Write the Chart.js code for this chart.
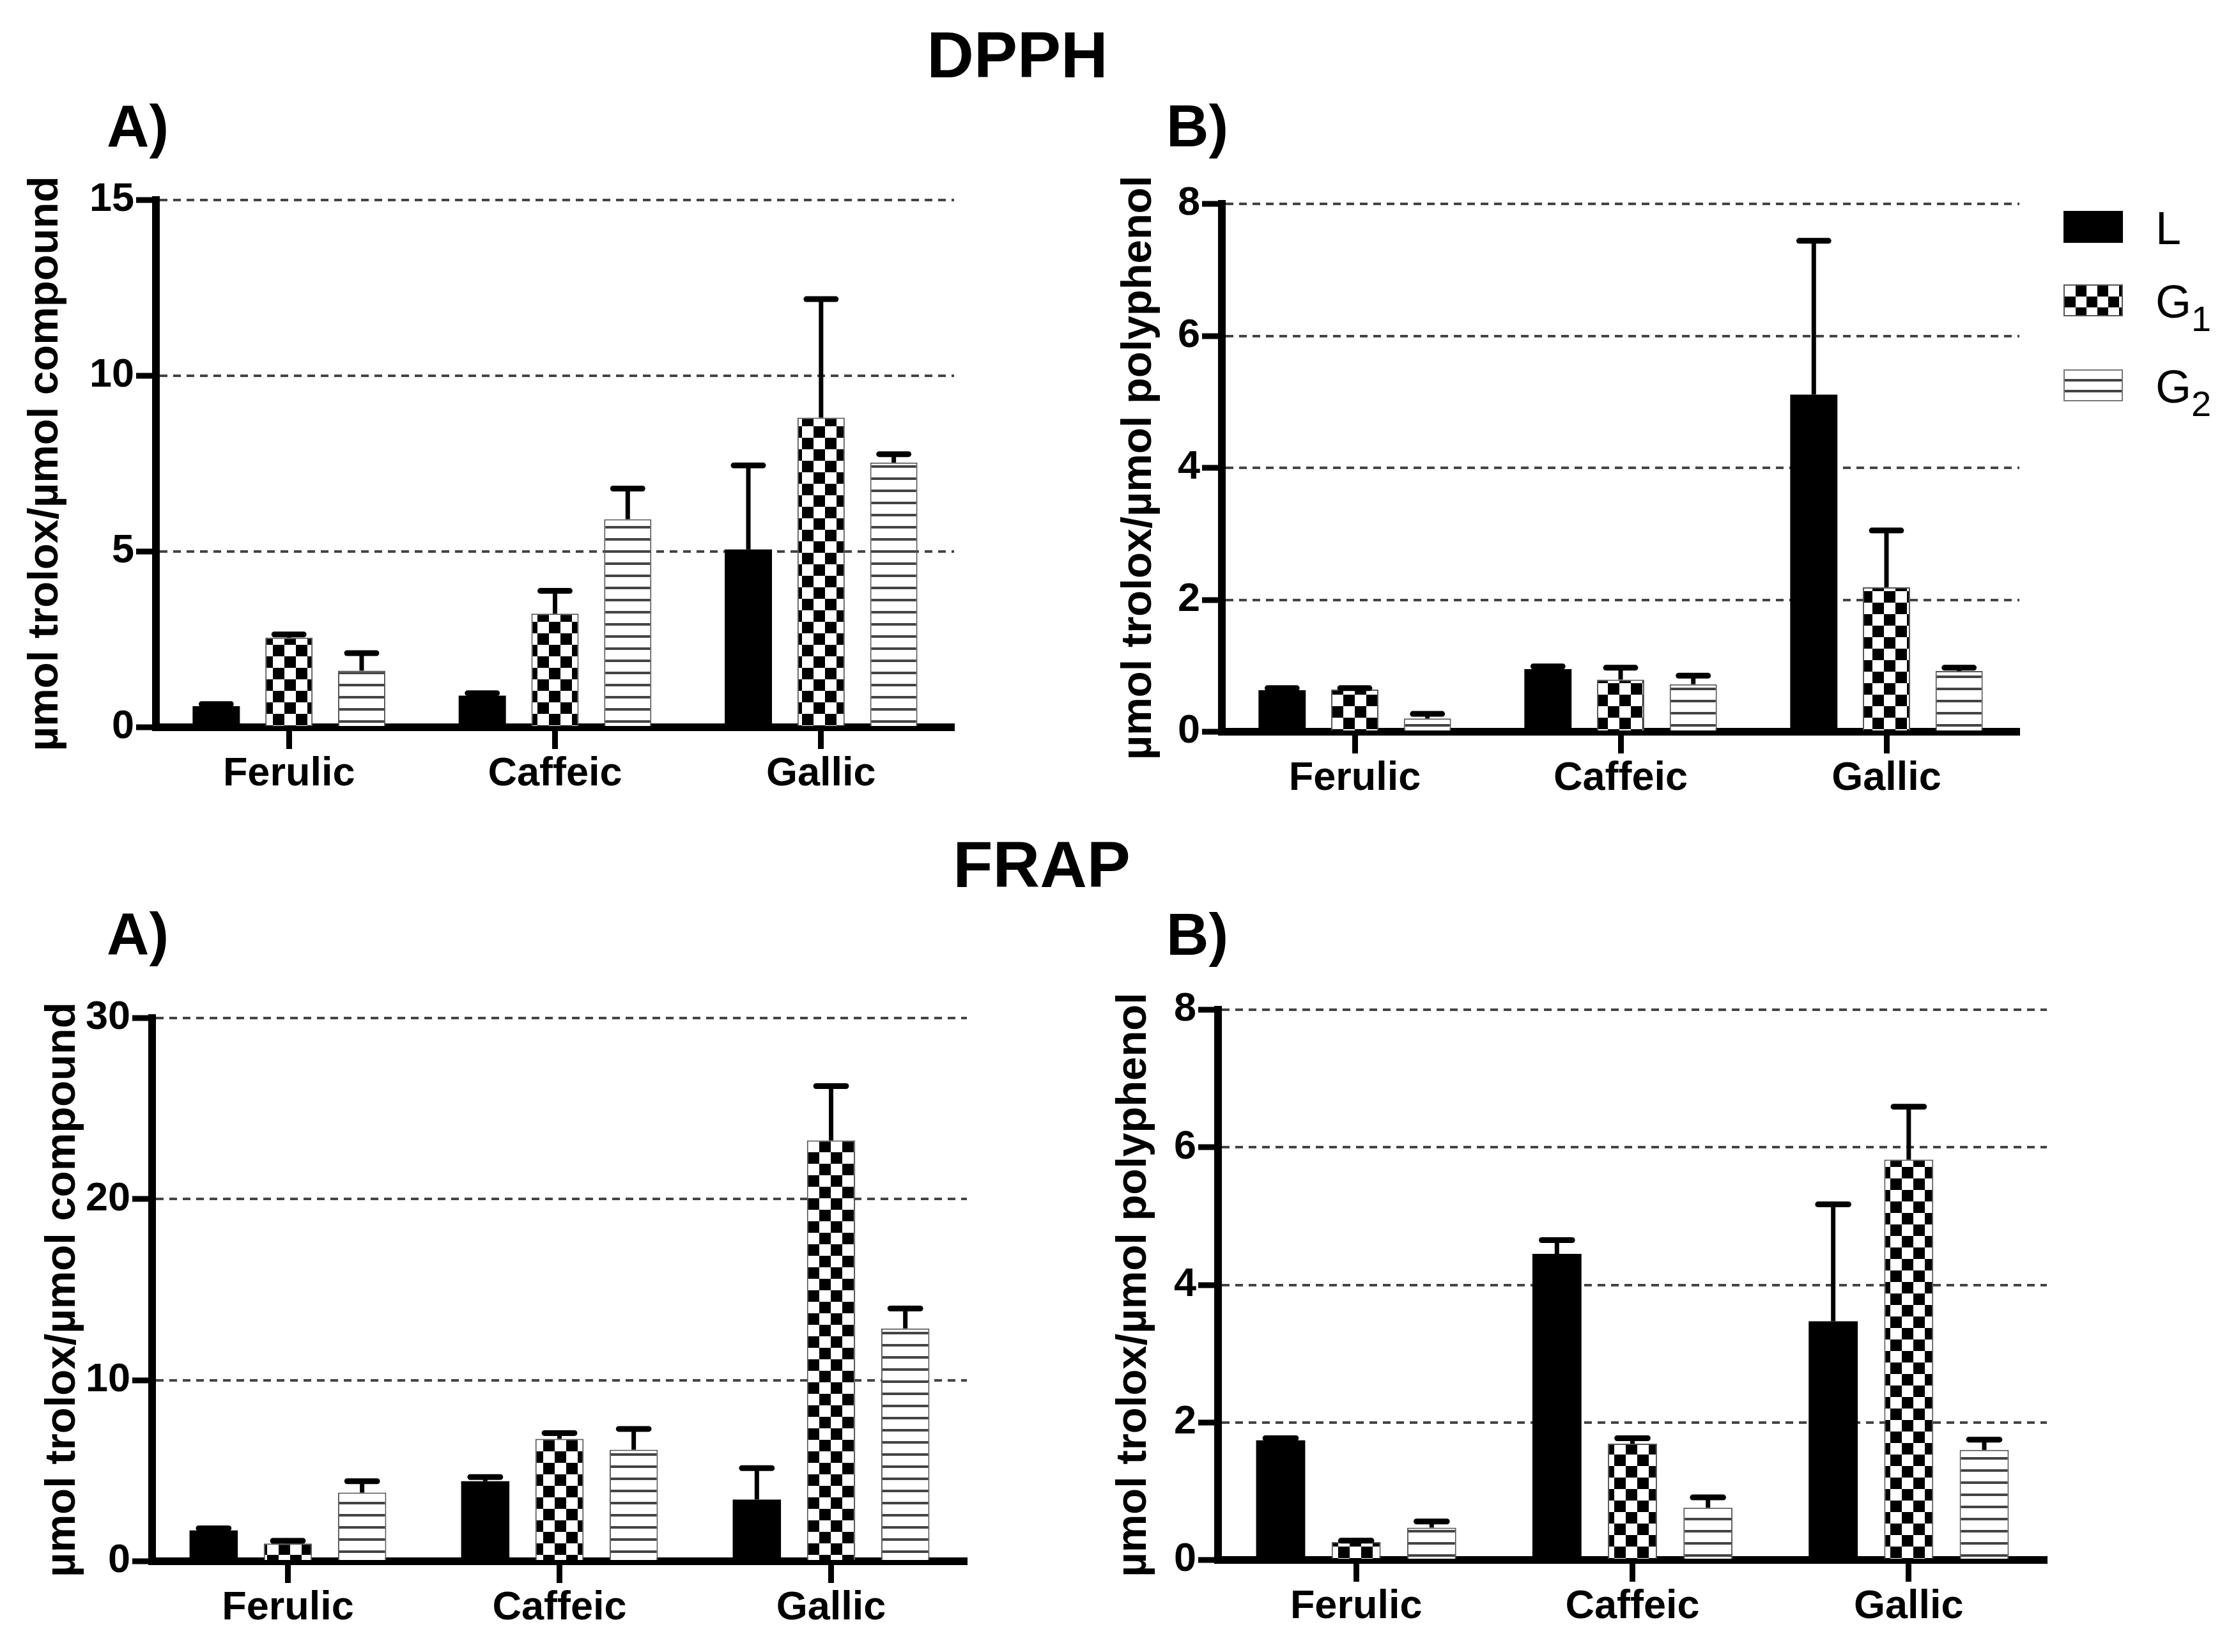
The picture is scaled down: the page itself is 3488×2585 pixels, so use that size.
<!DOCTYPE html>
<html>
<head>
<meta charset="utf-8">
<script src="https://cdn.jsdelivr.net/npm/chart.js@4.4.1/dist/chart.umd.min.js"></script>
<style>
  html, body { margin: 0; padding: 0; background: #fff; }
  #page { position: relative; width: 3488px; height: 2585px; overflow: hidden; background: #fff;
          font-family: 'Liberation Sans', Arial, sans-serif; color: #000; }
  canvas { position: absolute; }
  .txt { position: absolute; white-space: nowrap; line-height: 1; }
  .head { font-size: 102px; font-weight: bold; transform: translateX(-50%); }
  .panel { font-size: 92px; font-weight: bold; }
  .leg { font-size: 72px; }
  .leg .sub { font-size: 56px; position: relative; top: 21px; line-height: 0; }
  .sw { position: absolute; width: 93px; height: 50px; box-sizing: border-box; }
  .sw.solid { background: #000; }
  .sw.check { border: 2px solid #555;
              background: conic-gradient(#000 25%, #fff 0 50%, #000 0 75%, #fff 0);
              background-size: 34px 34px; }
  .sw.stripe { border: 2px solid #777;
               background: repeating-linear-gradient(to bottom, #fff 0 13px, #444 13px 17px); }
</style>
</head>
<body>
<div id="page">
  <div class="txt head" style="left:1592px; top:35px;">DPPH</div>
  <div class="txt head" style="left:1630px; top:1302px;">FRAP</div>
  <div class="txt panel" style="left:167px; top:151px;">A)</div>
  <div class="txt panel" style="left:1825px; top:151px;">B)</div>
  <div class="txt panel" style="left:167px; top:1415px;">A)</div>
  <div class="txt panel" style="left:1825px; top:1416px;">B)</div>

  <div class="sw solid" style="left:3229px; top:330px;"></div>
  <div class="sw check" style="left:3229px; top:445px;"></div>
  <div class="sw stripe" style="left:3229px; top:578px;"></div>
  <div class="txt leg" style="left:3373px; top:321px;">L</div>
  <div class="txt leg" style="left:3373px; top:436px;">G<span class="sub">1</span></div>
  <div class="txt leg" style="left:3373px; top:569px;">G<span class="sub">2</span></div>

  <canvas id="dpphA"></canvas>
  <canvas id="dpphB"></canvas>
  <canvas id="frapA"></canvas>
  <canvas id="frapB"></canvas>
</div>
<script>
const categories = ['Ferulic', 'Caffeic', 'Gallic'];
const seriesNames = ['L', 'G1', 'G2'];

// DPPH, per compound
const dpphA_L = [0.60, 0.90, 5.06];
const dpphA_L_sd = [0.06, 0.07, 2.39];
const dpphA_G1 = [2.55, 3.23, 8.81];
const dpphA_G1_sd = [0.09, 0.65, 3.37];
const dpphA_G2 = [1.61, 5.92, 7.53];
const dpphA_G2_sd = [0.50, 0.87, 0.24];
const dpphA_ticks = [0, 5, 10, 15];

// DPPH, per polyphenol
const dpphB_L = [0.63, 0.95, 5.11];
const dpphB_L_sd = [0.03, 0.04, 2.33];
const dpphB_G1 = [0.64, 0.79, 2.19];
const dpphB_G1_sd = [0.02, 0.18, 0.86];
const dpphB_G2 = [0.20, 0.72, 0.92];
const dpphB_G2_sd = [0.07, 0.13, 0.05];
const dpphB_ticks = [0, 2, 4, 6, 8];

// FRAP, per compound
const frapA_L = [1.70, 4.42, 3.41];
const frapA_L_sd = [0.12, 0.23, 1.73];
const frapA_G1 = [0.98, 6.76, 23.24];
const frapA_G1_sd = [0.15, 0.32, 3.00];
const frapA_G2 = [3.79, 6.16, 12.86];
const frapA_G2_sd = [0.63, 1.15, 1.10];
const frapA_ticks = [0, 10, 20, 30];

// FRAP, per polyphenol
const frapB_L = [1.74, 4.45, 3.47];
const frapB_L_sd = [0.03, 0.20, 1.70];
const frapB_G1 = [0.26, 1.69, 5.82];
const frapB_G1_sd = [0.02, 0.08, 0.77];
const frapB_G2 = [0.47, 0.76, 1.60];
const frapB_G2_sd = [0.09, 0.15, 0.15];
const frapB_ticks = [0, 2, 4, 6, 8];

const yTitleCompound = 'µmol trolox/µmol compound';
const yTitlePolyphenol = 'µmol trolox/µmol polyphenol';

const FONT = "'Liberation Sans', Arial, sans-serif";

function makeChecker() {
    const c = document.createElement('canvas');
    c.width = 36; c.height = 36;
    const g = c.getContext('2d');
    g.fillStyle = '#fff'; g.fillRect(0, 0, 36, 36);
    g.fillStyle = '#000';
    g.fillRect(0, 0, 18, 18);
    g.fillRect(18, 18, 18, 18);
    return g.createPattern(c, 'repeat');
}

function makeStripes() {
    const c = document.createElement('canvas');
    c.width = 19; c.height = 19;
    const g = c.getContext('2d');
    g.fillStyle = '#fff'; g.fillRect(0, 0, 19, 19);
    g.fillStyle = '#444'; g.fillRect(0, 0, 19, 4);
    return g.createPattern(c, 'repeat');
}

const checker = makeChecker();
const stripes = makeStripes();

// upward-only error bars with a cap
const errorBars = {
    id: 'errorBars',
    afterDatasetsDraw(chart) {
        const ctx = chart.ctx;
        const y = chart.scales.y;
        ctx.save();
        ctx.strokeStyle = '#000';
        chart.data.datasets.forEach((ds, i) => {
            chart.getDatasetMeta(i).data.forEach((bar, j) => {
                const base = y.getPixelForValue(ds.data[j]);
                const top = y.getPixelForValue(ds.data[j] + ds.errors[j]);
                const half = bar.width * 0.31;
                ctx.lineWidth = 7;
                ctx.lineCap = 'butt';
                ctx.beginPath();
                ctx.moveTo(bar.x, base);
                ctx.lineTo(bar.x, top);
                ctx.stroke();
                ctx.lineWidth = 9;
                ctx.lineCap = 'round';
                ctx.beginPath();
                ctx.moveTo(bar.x - half, top);
                ctx.lineTo(bar.x + half, top);
                ctx.stroke();
            });
        });
        ctx.restore();
    }
};

function buildChart(id, box, values, errors, ticks, yTitle) {
    const canvas = document.getElementById(id);
    const left = box.titleX - 40;
    const top = box.top - 60;
    const width = box.right - left + 20;
    const height = box.bottom - top + 130;
    canvas.width = width; canvas.height = height;
    canvas.style.left = left + 'px';
    canvas.style.top = top + 'px';
    canvas.style.width = width + 'px';
    canvas.style.height = height + 'px';
    const yWidth = box.axisX - left;

    const fills = ['#000', checker, stripes];
    const datasets = seriesNames.map((name, k) => ({
        label: name,
        data: values[k],
        errors: errors[k],
        backgroundColor: fills[k],
        borderColor: k === 0 ? '#000' : '#555',
        borderWidth: k === 0 ? 0 : 2,
        categoryPercentage: 0.82,
        barPercentage: 0.65
    }));

    return new Chart(canvas, {
        type: 'bar',
        data: { labels: categories, datasets },
        options: {
            responsive: false,
            animation: false,
            devicePixelRatio: 1,
            layout: { padding: { top: 60, right: 20, left: 0, bottom: 0 } },
            plugins: { legend: { display: false }, tooltip: { enabled: false } },
            scales: {
                x: {
                    afterFit: s => { s.height = 130; },
                    grid: {
                        offset: false,
                        drawOnChartArea: false,
                        drawTicks: true,
                        tickLength: 34,
                        tickWidth: 9,
                        tickColor: '#000'
                    },
                    border: { display: true, color: '#000', width: 12 },
                    ticks: {
                        color: '#000',
                        padding: 2,
                        font: { family: FONT, size: 63, weight: 'bold' }
                    }
                },
                y: {
                    min: ticks[0],
                    max: ticks[ticks.length - 1],
                    afterFit: s => { s.width = yWidth; },
                    afterBuildTicks: s => { s.ticks = ticks.map(v => ({ value: v })); },
                    grid: {
                        color: c => (c.tick && c.tick.value === 0) ? 'rgba(0,0,0,0)' : '#444',
                        lineWidth: 4,
                        drawTicks: true,
                        tickLength: 31,
                        tickWidth: 9,
                        tickColor: '#000',
                        tickBorderDash: []
                    },
                    border: { display: true, color: '#000', width: 12, dash: [12, 9] },
                    ticks: {
                        color: '#000',
                        padding: 3,
                        font: { family: FONT, size: 63, weight: 'bold' }
                    },
                    title: {
                        display: true,
                        text: yTitle,
                        color: '#000',
                        padding: 0,
                        font: { family: FONT, size: 67, weight: 'bold' }
                    }
                }
            }
        },
        plugins: [errorBars]
    });
}

buildChart('dpphA', { titleX: 71, axisX: 244, top: 313, bottom: 1138, right: 1493 },
    [dpphA_L, dpphA_G1, dpphA_G2], [dpphA_L_sd, dpphA_G1_sd, dpphA_G2_sd], dpphA_ticks, yTitleCompound);
buildChart('dpphB', { titleX: 1782, axisX: 1912, top: 319, bottom: 1145, right: 3160 },
    [dpphB_L, dpphB_G1, dpphB_G2], [dpphB_L_sd, dpphB_G1_sd, dpphB_G2_sd], dpphB_ticks, yTitlePolyphenol);
buildChart('frapA', { titleX: 98, axisX: 238, top: 1593, bottom: 2443, right: 1513 },
    [frapA_L, frapA_G1, frapA_G2], [frapA_L_sd, frapA_G1_sd, frapA_G2_sd], frapA_ticks, yTitleCompound);
buildChart('frapB', { titleX: 1774, axisX: 1906, top: 1580, bottom: 2441, right: 3203 },
    [frapB_L, frapB_G1, frapB_G2], [frapB_L_sd, frapB_G1_sd, frapB_G2_sd], frapB_ticks, yTitlePolyphenol);
</script>
</body>
</html>
